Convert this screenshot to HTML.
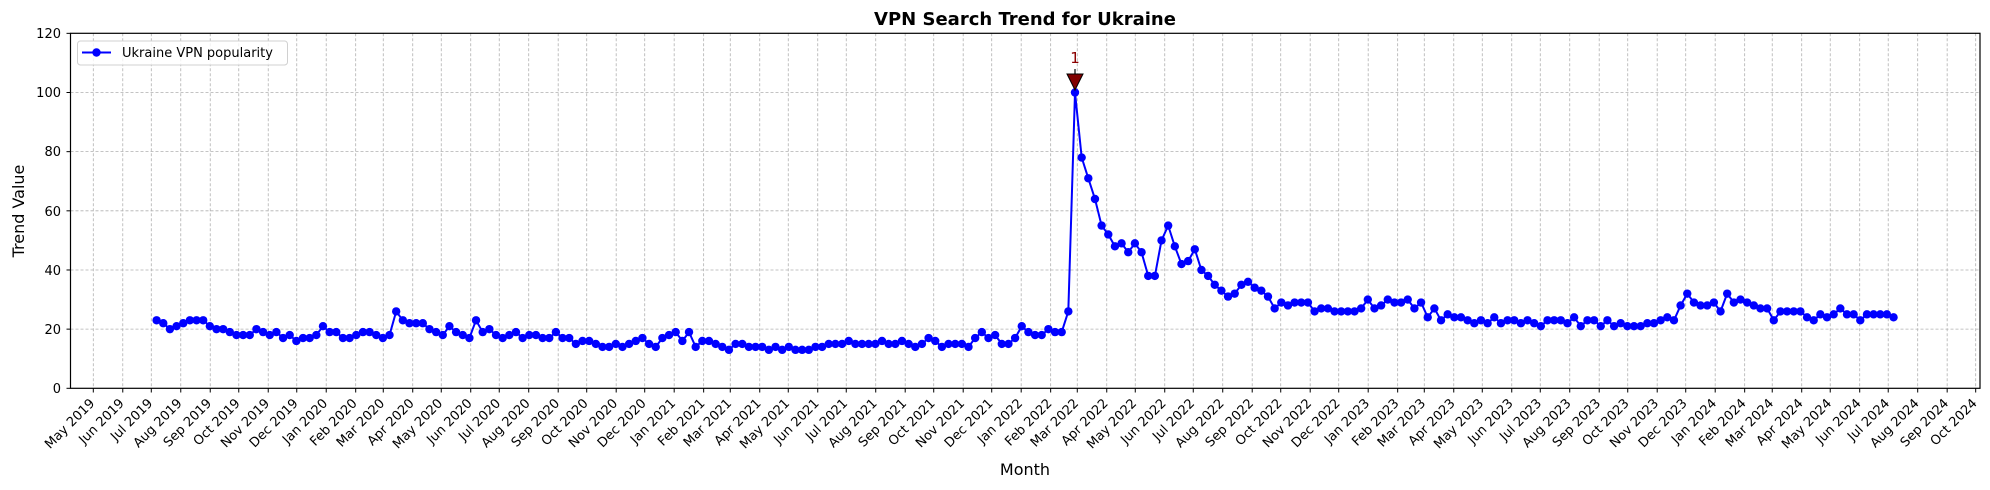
<!DOCTYPE html>
<html><head><meta charset="utf-8"><style>
html,body{margin:0;padding:0;background:#fff;}
svg{display:block;font-family:"DejaVu Sans","Liberation Sans",sans-serif;}
.xl{font-size:13px;fill:#000;}
</style></head><body>
<svg id="s" width="1990" height="490" viewBox="0 0 1990 490" xmlns="http://www.w3.org/2000/svg">
<rect width="1990" height="490" fill="#fff"/>
<g id="grid" stroke="#b0b0b0" stroke-width="0.8" stroke-dasharray="3,2" fill="none"></g>
<g id="ticks" stroke="#000" stroke-width="1"></g>
<g font-size="13" text-anchor="end" fill="#000">
<text x="61" y="393">0</text>
<text x="61" y="334">20</text>
<text x="61" y="275">40</text>
<text x="61" y="216">60</text>
<text x="61" y="156">80</text>
<text x="61" y="97">100</text>
<text x="61" y="38">120</text>
</g>
<g id="xlabels" class="xl" text-anchor="end">
<text>May 2019</text><text>Jun 2019</text><text>Jul 2019</text><text>Aug 2019</text><text>Sep 2019</text><text>Oct 2019</text><text>Nov 2019</text><text>Dec 2019</text>
<text>Jan 2020</text><text>Feb 2020</text><text>Mar 2020</text><text>Apr 2020</text><text>May 2020</text><text>Jun 2020</text><text>Jul 2020</text><text>Aug 2020</text><text>Sep 2020</text><text>Oct 2020</text><text>Nov 2020</text><text>Dec 2020</text>
<text>Jan 2021</text><text>Feb 2021</text><text>Mar 2021</text><text>Apr 2021</text><text>May 2021</text><text>Jun 2021</text><text>Jul 2021</text><text>Aug 2021</text><text>Sep 2021</text><text>Oct 2021</text><text>Nov 2021</text><text>Dec 2021</text>
<text>Jan 2022</text><text>Feb 2022</text><text>Mar 2022</text><text>Apr 2022</text><text>May 2022</text><text>Jun 2022</text><text>Jul 2022</text><text>Aug 2022</text><text>Sep 2022</text><text>Oct 2022</text><text>Nov 2022</text><text>Dec 2022</text>
<text>Jan 2023</text><text>Feb 2023</text><text>Mar 2023</text><text>Apr 2023</text><text>May 2023</text><text>Jun 2023</text><text>Jul 2023</text><text>Aug 2023</text><text>Sep 2023</text><text>Oct 2023</text><text>Nov 2023</text><text>Dec 2023</text>
<text>Jan 2024</text><text>Feb 2024</text><text>Mar 2024</text><text>Apr 2024</text><text>May 2024</text><text>Jun 2024</text><text>Jul 2024</text><text>Aug 2024</text><text>Sep 2024</text><text>Oct 2024</text>
</g>
<polyline id="line" fill="none" stroke="#0000ff" stroke-width="2"/>
<g id="dots" fill="#0000ff"></g>
<line x1="1075" y1="69" x2="1075" y2="76" stroke="#000" stroke-width="1.2"/>
<polygon points="1067,74 1083,74 1075,90" fill="#800000" stroke="#000" stroke-width="1"/>
<text x="1075" y="63" text-anchor="middle" font-size="15" fill="#8b0000" font-family="DejaVu Sans,sans-serif">1</text>
<rect x="70.5" y="33.3" width="1909.5" height="355" fill="none" stroke="#000" stroke-width="1.2"/>
<text x="1025" y="25" text-anchor="middle" font-size="18" font-weight="bold">VPN Search Trend for Ukraine</text>
<text x="1025" y="475" text-anchor="middle" font-size="16">Month</text>
<text transform="translate(24,211) rotate(-90)" text-anchor="middle" font-size="16">Trend Value</text>
<rect x="77.5" y="41" width="210" height="24" rx="3" fill="#fff" fill-opacity="0.8" stroke="#d0d0d0"/>
<line x1="82" y1="52.5" x2="111" y2="52.5" stroke="#0000ff" stroke-width="2"/>
<circle cx="96.5" cy="52.5" r="4.2" fill="#0000ff"/>
<text x="122" y="57" font-size="13">Ukraine VPN popularity</text>
</svg>
<script>
var NS="http://www.w3.org/2000/svg";
var lens=[31,30,31,31,30,31,30,31,31,29,31,30,31,30,31,31,30,31,30,31,31,28,31,30,31,30,31,31,30,31,30,31,31,28,31,30,31,30,31,31,30,31,30,31,31,28,31,30,31,30,31,31,30,31,30,31,31,29,31,30,31,30,31,31,30];
var x0=93.3,ppd=0.9507,d=0,xs=[];
for(var i=0;i<66;i++){xs.push(x0+d*ppd);if(i<65)d+=lens[i];}
var grid=document.getElementById('grid'),ticks=document.getElementById('ticks');
function ln(g,a,b,c,e){var l=document.createElementNS(NS,'line');l.setAttribute('x1',a);l.setAttribute('y1',b);l.setAttribute('x2',c);l.setAttribute('y2',e);g.appendChild(l);}
var Y=function(v){return 388.3-v*2.958;};
xs.forEach(function(x){ln(grid,x,33.3,x,388.3);ln(ticks,x,388.3,x,392.5);});
for(var v=0;v<=120;v+=20){if(v>0&&v<120)ln(grid,70.5,Y(v),1980,Y(v));ln(ticks,66.5,Y(v),70.5,Y(v));}
var labs=document.getElementById('xlabels').children;
for(var i=0;i<labs.length;i++){labs[i].setAttribute('transform','translate('+(xs[i]+2)+',404) rotate(-45)');}
var vals=[23,22,20,21,22,23,23,23,21,20,20,19,18,18,18,20,19,18,19,17,18,16,17,17,18,21,19,19,17,17,18,19,19,18,17,18,26,23,22,22,22,20,19,18,21,19,18,17,23,19,20,18,17,18,19,17,18,18,17,17,19,17,17,15,16,16,15,14,14,15,14,15,16,17,15,14,17,18,19,16,19,14,16,16,15,14,13,15,15,14,14,14,13,14,13,14,13,13,13,14,14,15,15,15,16,15,15,15,15,16,15,15,16,15,14,15,17,16,14,15,15,15,14,17,19,17,18,15,15,17,21,19,18,18,20,19,19,26,
100,78,71,64,55,52,48,49,46,49,46,38,38,50,55,48,42,43,47,40,38,35,33,31,32,35,36,34,33,31,27,29,28,29,29,29,26,27,27,26,26,26,26,27,30,27,28,30,29,29,30,27,29,24,27,23,25,24,24,23,22,23,22,24,22,23,23,22,23,22,21,23,23,23,22,24,21,23,23,21,23,21,22,21,21,21,22,22,23,24,23,28,32,29,28,28,29,26,32,29,30,29,28,27,27,23,26,26,26,26,24,23,25,24,25,27,25,25,23,25,25,25,25,24];
var p=vals.indexOf(100),pts=[],dots=document.getElementById('dots');
vals.forEach(function(v,i){var x=1075+(i-p)*6.655,y=Y(v);pts.push(x.toFixed(1)+','+y.toFixed(1));
var c=document.createElementNS(NS,'circle');c.setAttribute('cx',x);c.setAttribute('cy',y);c.setAttribute('r',4.2);dots.appendChild(c);});
document.getElementById('line').setAttribute('points',pts.join(' '));
</script>
</body></html>
